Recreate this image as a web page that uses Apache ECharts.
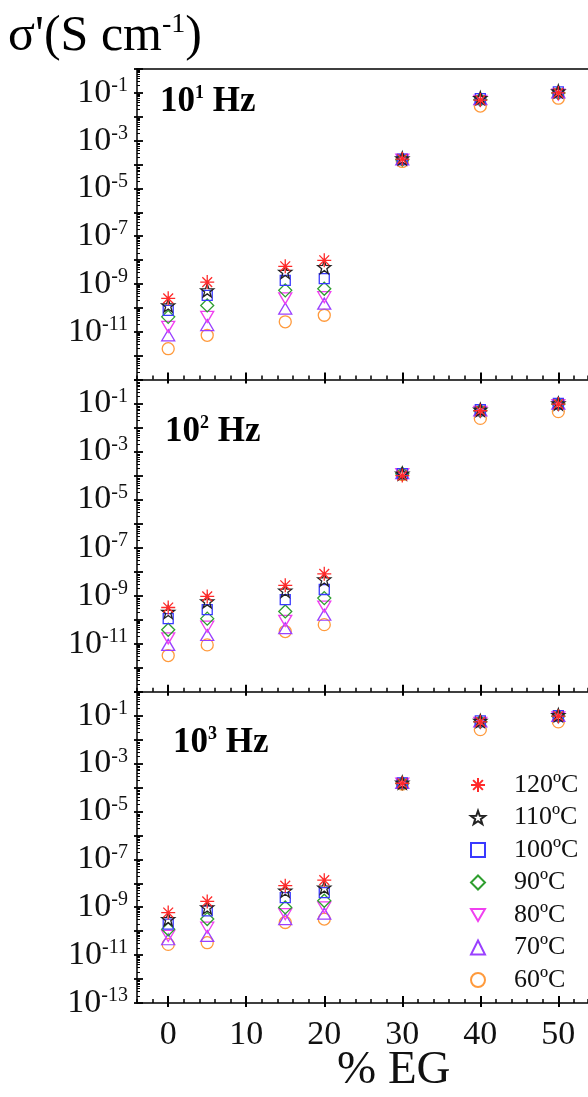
<!DOCTYPE html>
<html>
<head>
<meta charset="utf-8">
<script src="https://cdn.jsdelivr.net/npm/echarts@6/dist/echarts.min.js"></script>
<style>
html,body{margin:0;padding:0;background:#fff;}
#chart{width:588px;height:1097px;}
</style>
</head>
<body>
<div id="chart"></div>
<script>
// ---------------- DATA ----------------
const xValues = [0, 5, 15, 20, 30, 40, 50];          // % EG
const tempLabels = ['120ºC', '110ºC', '100ºC', '90ºC', '80ºC', '70ºC', '60ºC'];
const panelLabels = ['1', '2', '3'];                   // 10^n Hz
const xTickStep = 10;                                  // labelled ticks 0,10,...,50
const xTickLast = 50;
const yLabelExponents = [-1, -3, -5, -7, -9, -11, -13];

// 10^1 Hz
const f1_120 = [2.5e-10, 1.2e-9, 5.5e-9, 9.8e-9, 1.7e-4, 5.0e-2, 1.0e-1];
const f1_110 = [1.26e-10, 5.4e-10, 3.2e-9, 5.1e-9, 1.8e-4, 6.0e-2, 1.15e-1];
const f1_100 = [7.9e-11, 3.3e-10, 1.4e-9, 1.66e-9, 1.7e-4, 5.8e-2, 1.1e-1];
const f1_90  = [4.2e-11, 1.26e-10, 5.4e-10, 6.3e-10, 1.6e-4, 5.2e-2, 1.0e-1];
const f1_80  = [1.6e-11, 4.2e-11, 2.5e-10, 2.8e-10, 1.6e-4, 4.6e-2, 8.5e-2];
const f1_70  = [7.1e-12, 1.9e-11, 9.3e-11, 1.5e-10, 1.65e-4, 5.5e-2, 1.05e-1];
const f1_60  = [1.95e-12, 7.1e-12, 2.6e-11, 4.9e-11, 1.35e-4, 2.8e-2, 6.0e-2];
// 10^2 Hz
const f2_120 = [3.2e-10, 9.3e-10, 2.7e-9, 8.1e-9, 1.0e-4, 5.0e-2, 9.5e-2];
const f2_110 = [2.1e-10, 5.8e-10, 1.6e-9, 4.7e-9, 1.2e-4, 5.5e-2, 1.0e-1];
const f2_100 = [1.1e-10, 2.6e-10, 6.8e-10, 1.8e-9, 1.2e-4, 5.5e-2, 1.0e-1];
const f2_90  = [3.8e-11, 1.1e-10, 2.2e-10, 7.9e-10, 1.2e-4, 5.0e-2, 9.5e-2];
const f2_80  = [1.66e-11, 5.1e-11, 8.9e-11, 3.5e-10, 1.15e-4, 4.5e-2, 8.5e-2];
const f2_70  = [8.9e-12, 2.3e-11, 4.4e-11, 1.6e-10, 1.25e-4, 5.2e-2, 9.8e-2];
const f2_60  = [3.2e-12, 8.9e-12, 3.2e-11, 6.2e-11, 1.1e-4, 2.4e-2, 4.6e-2];
// 10^3 Hz
const f3_120 = [6.0e-10, 1.74e-9, 7.9e-9, 1.35e-8, 1.5e-4, 5.5e-2, 9.5e-2];
const f3_110 = [3.2e-10, 9.8e-10, 4.9e-9, 6.6e-9, 1.6e-4, 6.0e-2, 1.05e-1];
const f3_100 = [1.95e-10, 7.1e-10, 2.5e-9, 4.1e-9, 1.55e-4, 6.0e-2, 1.0e-1];
const f3_90  = [1.2e-10, 3.2e-10, 9.8e-10, 1.86e-9, 1.5e-4, 5.5e-2, 9.5e-2];
const f3_80  = [6.3e-11, 1.4e-10, 5.1e-10, 9.8e-10, 1.45e-4, 5.0e-2, 8.5e-2];
const f3_70  = [4.6e-11, 6.3e-11, 3.2e-10, 5.4e-10, 1.55e-4, 5.8e-2, 9.8e-2];
const f3_60  = [2.8e-11, 3.3e-11, 2.3e-10, 3.2e-10, 1.4e-4, 2.6e-2, 5.5e-2];

const panels = [
  [f1_120, f1_110, f1_100, f1_90, f1_80, f1_70, f1_60],
  [f2_120, f2_110, f2_100, f2_90, f2_80, f2_70, f2_60],
  [f3_120, f3_110, f3_100, f3_90, f3_80, f3_70, f3_60]
];

// ---------------- STYLE ----------------
const SERIF = 'Liberation Serif';
const colors = ['#ff2a2a', '#222222', '#3a3aff', '#2e9e2e', '#f040f0', '#9a40ff', '#ff9a3c'];
const symbols = [
  'path://M5,0 L5,10 M0,5 L10,5 M1.5,1.5 L8.5,8.5 M1.5,8.5 L8.5,1.5',
  'path://M0,-10 L2.35,-3.24 L9.51,-3.09 L3.80,1.24 L5.88,8.09 L0,4 L-5.88,8.09 L-3.80,1.24 L-9.51,-3.09 L-2.35,-3.24 Z',
  'rect',
  'diamond',
  'path://M0,0 L10,0 L5,8.66 Z',
  'triangle',
  'circle'
];
const symbolSizes = [14, 13, 10, 13, [13, 11], [13, 11], 12];

const CHART_W = 588;
const X_MIN = -4, X_MAX = 53.8;
const gridLeft = 137;
const pxPerUnit = (CHART_W - gridLeft) / (X_MAX - X_MIN);
// helper grid with the same scale, spanning exactly x = 0 .. 50 (for the major ticks)
const tickGridLeft = gridLeft + (0 - X_MIN) * pxPerUnit;
const tickGridWidth = xTickLast * pxPerUnit;
const gridTops = [69, 379.5, 691.7];
const gridHeights = [310.5, 312.2, 311.3];

const grids = [], xAxes = [], yAxes = [], series = [];
const blackLine = (w) => ({ color: '#000', width: w });

for (let g = 0; g < 3; g++) {
  const dataGrid = grids.length;
  grids.push({ left: gridLeft, top: gridTops[g], right: 0, height: gridHeights[g] });
  const tickGrid = grids.length;
  grids.push({ left: tickGridLeft, top: gridTops[g], width: tickGridWidth, height: gridHeights[g] });

  // data axis: line + minor ticks every 2 units (counted from min = -4)
  const xData = xAxes.length;
  xAxes.push({
    type: 'value', gridIndex: dataGrid, min: X_MIN, max: X_MAX, interval: 2, position: 'bottom',
    splitLine: { show: false },
    axisLine: { show: true, onZero: false, lineStyle: blackLine(1.5) },
    axisTick: { show: true, inside: true, length: 4, lineStyle: blackLine(1.5) },
    axisLabel: { show: false }
  });
  if (g === 0) {
    // top frame line of the first panel
    xAxes.push({
      type: 'value', gridIndex: dataGrid, min: X_MIN, max: X_MAX, position: 'top',
      splitLine: { show: false },
      axisLine: { show: true, onZero: false, lineStyle: blackLine(1.5) },
      axisTick: { show: false }, axisLabel: { show: false }
    });
  }
  // major ticks (0,10,...,50) inside + labels
  xAxes.push({
    type: 'value', gridIndex: tickGrid, min: 0, max: xTickLast, interval: xTickStep, position: 'bottom',
    splitLine: { show: false },
    axisLine: { show: false, onZero: false },
    axisTick: { show: true, inside: true, length: 7, lineStyle: blackLine(2) },
    axisLabel: {
      show: g === 2, margin: 15,
      fontFamily: SERIF, fontSize: 34, color: '#111'
    }
  });
  // major ticks, outside part
  xAxes.push({
    type: 'value', gridIndex: tickGrid, min: 0, max: xTickLast, interval: xTickStep, position: 'bottom',
    splitLine: { show: false },
    axisLine: { show: false, onZero: false },
    axisTick: { show: true, inside: false, length: 4, lineStyle: blackLine(2) },
    axisLabel: { show: false }
  });

  const isBottom = g === 2;
  const yMain = yAxes.length;
  yAxes.push({
    type: 'log', logBase: 10, gridIndex: dataGrid, min: 1e-13, max: 1, interval: 1, position: 'left',
    axisLine: { show: true, onZero: false, lineStyle: blackLine(1.5) },
    axisTick: { show: true, inside: true, length: 6, lineStyle: blackLine(1.8) },
    minorTick: { show: true, splitNumber: 9, length: 3, lineStyle: blackLine(1) },
    splitLine: { show: false },
    minorSplitLine: { show: false },
    axisLabel: {
      margin: 9,
      showMinLabel: true, showMaxLabel: true,
      formatter: function (v) {
        const e = Math.round(Math.log10(v));
        if (yLabelExponents.indexOf(e) < 0) return '';
        if (e === -13 && !isBottom) return '';
        return '{b|10}{s|' + e + '}';
      },
      rich: {
        b: { fontFamily: SERIF, fontSize: 34, lineHeight: 34, color: '#111', verticalAlign: 'middle' },
        s: { fontFamily: SERIF, fontSize: 20, lineHeight: 16, color: '#111', verticalAlign: 'top' }
      }
    }
  });
  yAxes.push({
    type: 'log', logBase: 10, gridIndex: dataGrid, min: 1e-13, max: 1, interval: 1, position: 'left',
    axisLine: { show: false, onZero: false },
    axisTick: { show: true, inside: false, length: 3, lineStyle: blackLine(1.8) },
    splitLine: { show: false },
    axisLabel: { show: false }
  });
  // y axis for the tick grid (hidden)
  yAxes.push({
    type: 'log', gridIndex: tickGrid, min: 1e-13, max: 1, show: false
  });

  for (let t = 0; t < 7; t++) {
    const vals = panels[g][t];
    series.push({
      type: 'scatter',
      name: tempLabels[t],
      xAxisIndex: xData,
      yAxisIndex: yMain,
      symbol: symbols[t],
      symbolSize: symbolSizes[t],
      itemStyle: { color: 'rgba(0,0,0,0)', borderColor: colors[t], borderWidth: 1.3, opacity: 1 },
      emphasis: { disabled: true },
      z: 10 - t,
      data: xValues.map((x, i) => [x, vals[i]])
    });
  }
}

const panelText = (n) => '{b|10}{s|' + n + '}{b| Hz}';
const panelRich = {
  b: { fontFamily: SERIF, fontSize: 35, fontWeight: 'bold', color: '#000', lineHeight: 36, verticalAlign: 'middle' },
  s: { fontFamily: SERIF, fontSize: 18, fontWeight: 'bold', color: '#000', lineHeight: 20, verticalAlign: 'top' }
};
const panelPos = [[160, 84], [165, 414], [173, 725]];

const graphics = panelLabels.map((n, i) => ({
  type: 'text', left: panelPos[i][0], top: panelPos[i][1], z: 100,
  style: { text: panelText(n), rich: panelRich }
}));
graphics.push({
  type: 'text', left: 8, top: 11, z: 100,
  style: {
    text: "{m|σ'(S cm}{s|-1}{m|)}",
    rich: {
      m: { fontFamily: SERIF, fontSize: 50, color: '#111', lineHeight: 52, verticalAlign: 'middle' },
      s: { fontFamily: SERIF, fontSize: 28, color: '#111', lineHeight: 26, verticalAlign: 'top' }
    }
  }
});
graphics.push({
  type: 'text', left: 337, top: 1047, z: 100,
  style: { text: '% EG', fontFamily: SERIF, fontSize: 47, fill: '#111' }
});

const chart = echarts.init(document.getElementById('chart'), null, { renderer: 'canvas' });
chart.setOption({
  animation: false,
  backgroundColor: '#fff',
  grid: grids,
  xAxis: xAxes,
  yAxis: yAxes,
  legend: {
    orient: 'vertical', left: 470, top: 772, padding: 0,
    itemWidth: 14, itemHeight: 14, itemGap: 6.5,
    data: tempLabels,
    selectedMode: false,
    formatter: function (name) { return '{t|' + name + '}'; },
    textStyle: {
      rich: { t: { fontFamily: SERIF, fontSize: 26, lineHeight: 26, color: '#111', padding: [0, 0, 0, 24] } }
    }
  },
  graphic: graphics,
  series: series
});
</script>
</body>
</html>
